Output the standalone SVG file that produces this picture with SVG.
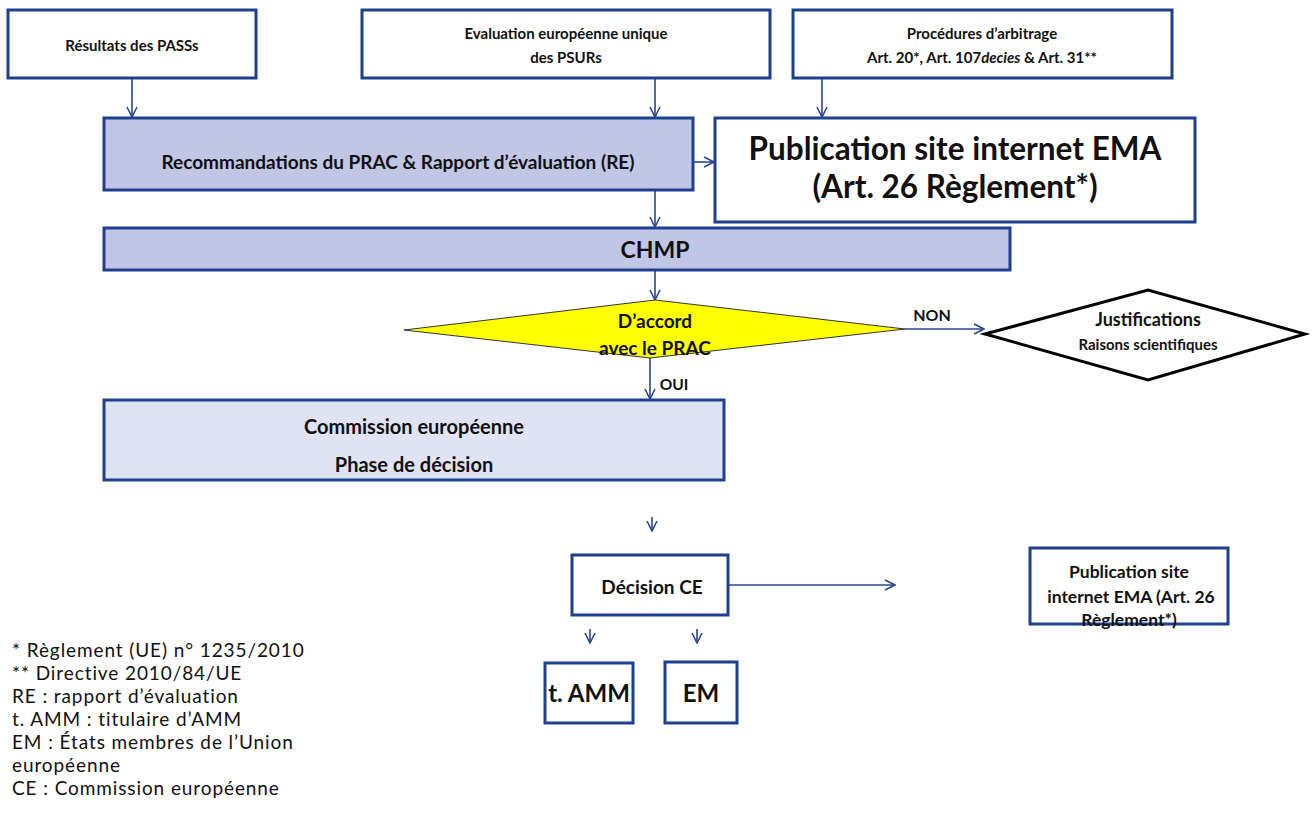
<svg xmlns="http://www.w3.org/2000/svg" width="1314" height="837" viewBox="0 0 1314 837">
<style>
.box{fill:#fff;stroke:#1f3f8f;stroke-width:3}
.lav{fill:#c0c6e4;stroke:#1f3f8f;stroke-width:3}
.lav2{fill:#e0e3f3;stroke:#1f3f8f;stroke-width:3}
.t{font-family:Lato,"Liberation Sans",sans-serif;font-weight:bold;fill:#111;text-anchor:middle}
.leg{font-family:Lato,"Liberation Sans",sans-serif;fill:#111;font-size:19px;letter-spacing:0.9px}
.c{stroke:#2a4590;stroke-width:1.6;fill:none}
</style>
<defs>
<marker id="ah" viewBox="0 0 12 12" refX="11" refY="6" markerWidth="12" markerHeight="12" markerUnits="userSpaceOnUse" orient="auto">
<path d="M1,1 L11,6 L1,11" fill="none" stroke="#2a4590" stroke-width="1.6"/>
</marker>
</defs>
<rect width="1314" height="837" fill="#fff"/>
<g id="connectors">
<line class="c" x1="132" y1="78" x2="132" y2="117" marker-end="url(#ah)"/>
<line class="c" x1="655" y1="78" x2="655" y2="117" marker-end="url(#ah)"/>
<line class="c" x1="822" y1="78" x2="822" y2="117" marker-end="url(#ah)"/>
<line class="c" x1="693" y1="162" x2="714" y2="162" marker-end="url(#ah)"/>
<line class="c" x1="655" y1="190" x2="655" y2="227" marker-end="url(#ah)"/>
<line class="c" x1="655" y1="270" x2="655" y2="300" marker-end="url(#ah)"/>
<line class="c" x1="905" y1="329" x2="984" y2="329" marker-end="url(#ah)"/>
<line class="c" x1="650" y1="358" x2="650" y2="399" marker-end="url(#ah)"/>
<line class="c" x1="652" y1="517" x2="652" y2="531" marker-end="url(#ah)"/>
<line class="c" x1="728" y1="585" x2="895" y2="585" marker-end="url(#ah)"/>
<line class="c" x1="590" y1="629" x2="590" y2="643" marker-end="url(#ah)"/>
<line class="c" x1="697" y1="629" x2="697" y2="643" marker-end="url(#ah)"/>
<text class="t" x="932" y="321" font-size="16">NON</text>
<text class="t" x="674" y="390" font-size="15.5">OUI</text>
</g>
<g id="n-pass">
<rect class="box" x="8" y="10" width="248" height="68"/>
<text class="t" x="132" y="51" font-size="15">Résultats des PASSs</text>
</g>
<g id="n-psur">
<rect class="box" x="362" y="10" width="408" height="68"/>
<text class="t" x="566" y="39" font-size="15">Evaluation européenne unique</text>
<text class="t" x="566" y="63" font-size="15">des PSURs</text>
</g>
<g id="n-arb">
<rect class="box" x="793" y="10" width="379" height="68"/>
<text class="t" x="982" y="39" font-size="15">Procédures d’arbitrage</text>
<text class="t" x="982" y="63" font-size="15">Art. 20*, Art. 107<tspan font-style="italic">decies</tspan> &amp; Art.  31**</text>
</g>
<g id="n-reco">
<rect class="lav" x="104" y="118" width="589" height="72"/>
<text class="t" x="398" y="169" font-size="19">Recommandations du PRAC &amp; Rapport d’évaluation (RE)</text>
</g>
<g id="n-pub1">
<rect class="box" x="715" y="118" width="480" height="104"/>
<text class="t" x="955" y="160" font-size="31.5">Publication site internet EMA</text>
<text class="t" x="955" y="198" font-size="31.5">(Art. 26 Règlement*)</text>
</g>
<g id="n-chmp">
<rect class="lav" x="104" y="228" width="906" height="42"/>
<text class="t" x="655" y="258" font-size="23">CHMP</text>
</g>
<g id="n-accord">
<polygon points="404,330 655,300 905,329 650,358" fill="#ffff00" stroke="#333" stroke-width="1"/>
<text class="t" x="655" y="328" font-size="19">D’accord</text>
<text class="t" x="655" y="355" font-size="19">avec le PRAC</text>
</g>
<g id="n-just">
<polygon points="985,334 1148,290 1305,334 1148,380" fill="#fff" stroke="#000" stroke-width="3"/>
<text class="t" x="1148" y="326" font-size="18">Justifications</text>
<text class="t" x="1148" y="350" font-size="15">Raisons scientifiques</text>
</g>
<g id="n-ce">
<rect class="lav2" x="104" y="400" width="620" height="80"/>
<text class="t" x="414" y="434" font-size="20">Commission européenne</text>
<text class="t" x="414" y="472" font-size="20">Phase de décision</text>
</g>
<g id="n-dec">
<rect class="box" x="572" y="555" width="156" height="60"/>
<text class="t" x="652" y="594" font-size="19">Décision CE</text>
</g>
<g id="n-pub2">
<rect class="box" x="1030" y="548" width="198" height="76"/>
<text class="t" x="1129" y="578" font-size="17.5">Publication site</text>
<text class="t" x="1131" y="603" font-size="17.5">internet EMA (Art. 26</text>
<text class="t" x="1129" y="626" font-size="17.5">Règlement*)</text>
</g>
<g id="n-tamm">
<rect class="box" x="545" y="663" width="88" height="60"/>
<text class="t" x="589" y="702" font-size="24">t. AMM</text>
</g>
<g id="n-em">
<rect class="box" x="665" y="662" width="72" height="61"/>
<text class="t" x="701" y="702" font-size="24">EM</text>
</g>
<g id="legend">
<text class="leg" x="12" y="657">* Règlement (UE) n° 1235/2010</text>
<text class="leg" x="12" y="680">** Directive 2010/84/UE</text>
<text class="leg" x="12" y="703">RE : rapport d’évaluation</text>
<text class="leg" x="12" y="726">t. AMM : titulaire d’AMM</text>
<text class="leg" x="12" y="749">EM : États membres de l’Union</text>
<text class="leg" x="12" y="772">européenne</text>
<text class="leg" x="12" y="795">CE : Commission européenne</text>
</g>
</svg>
